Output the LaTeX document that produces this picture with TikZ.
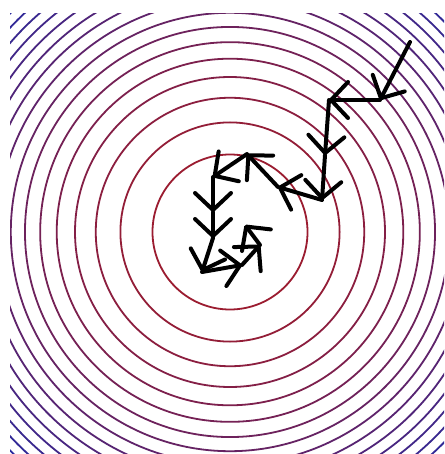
\documentclass[tikz,border=0pt]{standalone}
\usetikzlibrary{arrows.meta}
\definecolor{inc}{RGB}{155,28,48}
\definecolor{outc}{RGB}{42,42,158}
\tikzset{
  contour/.style={line width=1.8pt},
  gdarrow/.style={line width=4pt, black, line cap=round, line join=round,
    -{Straight Barb[length=17pt, width=36pt, line cap=round, line join=round]}},
}
\begin{document}
\begin{tikzpicture}[x=1pt, y=-1pt]
\useasboundingbox (0,0) rectangle (444,454);
\fill[white] (0,0) rectangle (444,454);
\begin{scope}
  \clip (10,13.5) rectangle (444,454);
  \foreach \k in {1,...,17} {
    \pgfmathsetmacro\r{77.5*sqrt(\k)}
    \pgfmathsetmacro\p{min(100,(\k-1)/15*100)}
    \draw[contour, draw=outc!\p!inc] (230,232) circle[radius=\r pt];
  }
\end{scope}
\coordinate (p0) at (410,42);
\coordinate (p1) at (380,100);
\coordinate (p2) at (329,100);
\coordinate (p3) at (325,155);
\coordinate (p4) at (322,200);
\coordinate (p5) at (278,187);
\coordinate (p6) at (247,154);
\coordinate (p7) at (213,177);
\coordinate (p8) at (213,212);
\coordinate (p9) at (213,238);
\coordinate (p10) at (202,272);
\coordinate (p11) at (242,265);
\coordinate (p12) at (260,245);
\coordinate (p13) at (245,225);
\draw[gdarrow] (p0) -- (p1);
\draw[gdarrow] (p1) -- (p2);
\draw[gdarrow] (p2) -- (p3);
\draw[gdarrow] (p3) -- (p4);
\draw[gdarrow] (p4) -- (p5);
\draw[gdarrow] (p5) -- (p6);
\draw[gdarrow] (p6) -- (p7);
\draw[gdarrow] (p7) -- (p8);
\draw[gdarrow] (p8) -- (p9);
\draw[gdarrow] (p9) -- (p10);
\draw[gdarrow] (p10) -- (p11);
\draw[gdarrow] (p11) -- (p12);
\draw[gdarrow] (p12) -- (p13);
\end{tikzpicture}
\end{document}
